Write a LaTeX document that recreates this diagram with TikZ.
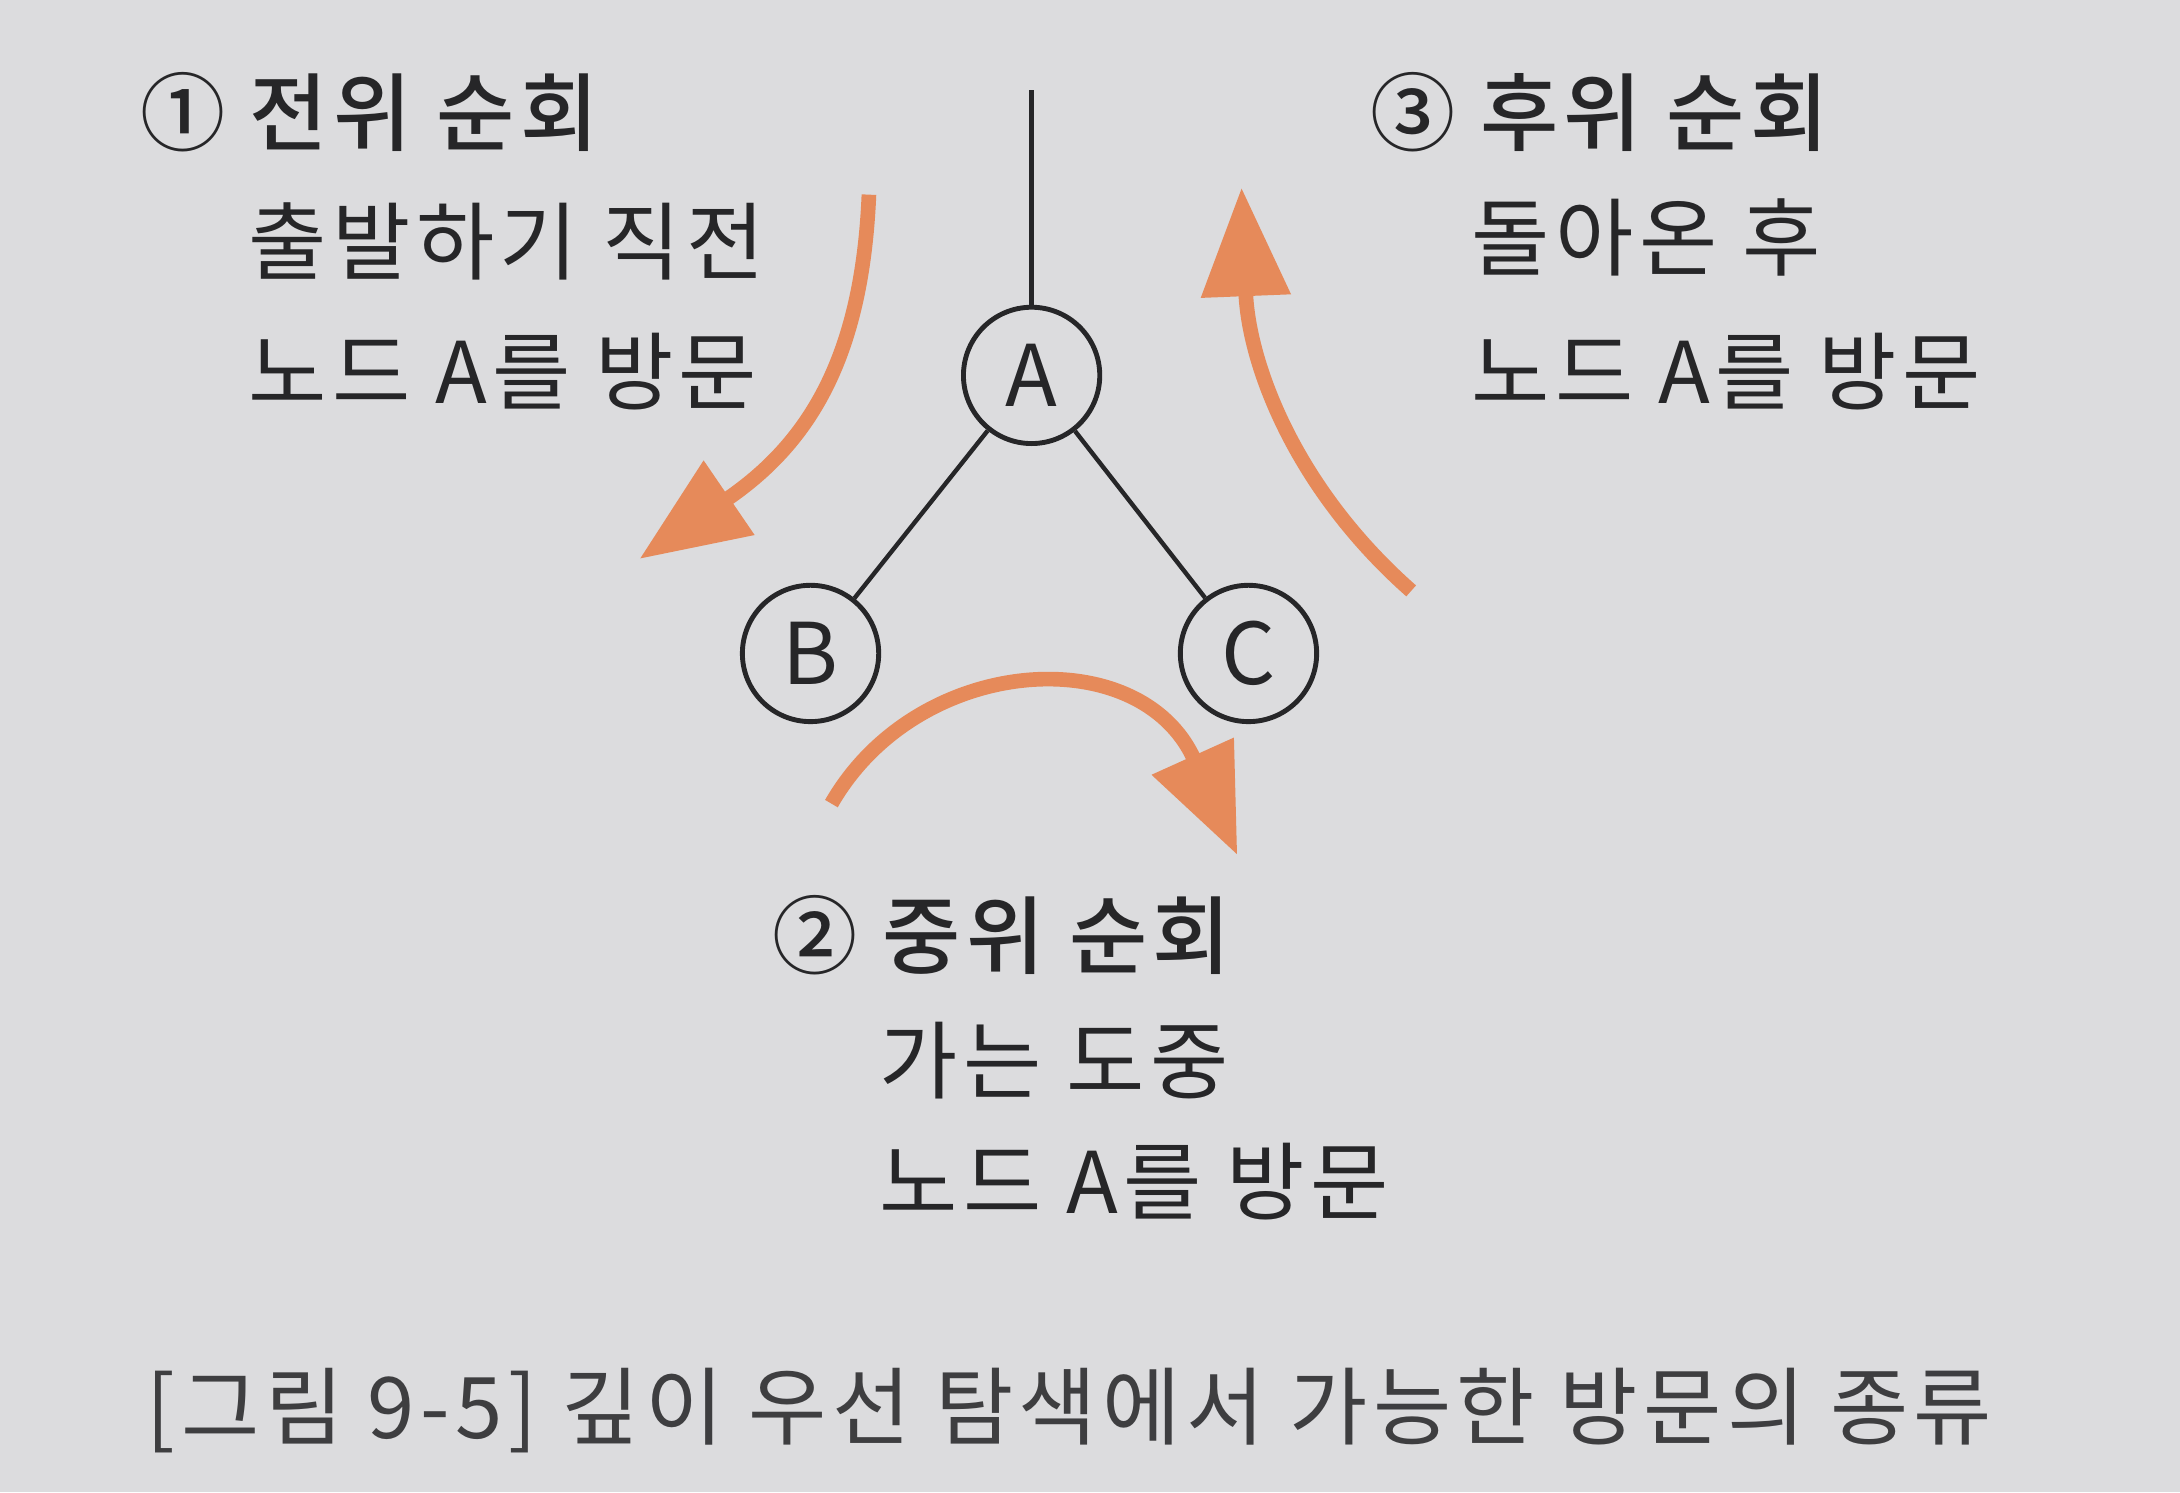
\documentclass[tikz,border=0pt]{standalone}
\usepackage{fontspec}
\setmainfont{Noto Sans CJK KR}[LetterSpace=6.5,BoldFont={Noto Sans CJK KR Medium}]
\usetikzlibrary{arrows.meta}
\definecolor{paper}{RGB}{220,220,222}
\definecolor{ink}{RGB}{38,38,40}
\definecolor{capgray}{RGB}{62,62,64}
\definecolor{visitorange}{RGB}{230,138,90}

\begin{document}
\begin{tikzpicture}[x=0.01cm,y=-0.01cm,
  every node/.style={font=\fontsize{17.4}{20}\selectfont,text=ink,inner sep=0pt},
  head/.style={anchor=base west,font=\fontsize{17.4}{20}\selectfont\bfseries},
  txt/.style={anchor=base west},
  vertex/.style={circle,draw=ink,line width=1pt,minimum size=0.98cm},
  branch/.style={draw=ink,line width=0.9pt},
  visit/.style={draw=visitorange,line width=3pt,
                -{Triangle[length=0.78cm,width=0.62cm]}}
]
  \fill[paper] (0,0) rectangle (1568,1073.2);

  % tree
  \node[vertex] (A) at (742,270) {A};
  \node[vertex] (B) at (583,470) {B};
  \node[vertex] (C) at (898,470) {C};
  \coordinate (root) at (742,65);
  \draw[branch] (root) -- (A);
  \draw[branch] (A) -- (B);
  \draw[branch] (A) -- (C);

  % visiting arrows
  \coordinate (preS) at (625,140);
  \coordinate (preE) at (460,402);
  \coordinate (inS) at (598,578);
  \coordinate (inE) at (890,615);
  \coordinate (postS) at (1015,425);
  \coordinate (postE) at (893,135);
  \draw[visit] (preS) .. controls (620,260) and (580,320) .. (preE);
  \draw[visit] (inS) .. controls (660,470) and (820,460) .. (inE);
  \draw[visit] (postS) .. controls (930,350) and (898,260) .. (postE);

  % labels
  \node[head] (preH) at (100,104) {① 전위 순회};
  \node[txt] (preL1) at (178,197) {출발하기 직전};
  \node[txt] (preL2) at (178,290) {노드 A를 방문};
  \node[head] (postH) at (985,104) {③ 후위 순회};
  \node[txt] (postL1) at (1058,194) {돌아온 후};
  \node[txt] (postL2) at (1058,290) {노드 A를 방문};
  \node[head] (inH) at (555,696) {② 중위 순회};
  \node[txt] (inL1) at (632,786) {가는 도중};
  \node[txt] (inL2) at (632,873) {노드 A를 방문};

  % caption
  \node[txt,text=capgray] (cap) at (105,1035) {[그림 9-5] 깊이 우선 탐색에서 가능한 방문의 종류};
\end{tikzpicture}
\end{document}
